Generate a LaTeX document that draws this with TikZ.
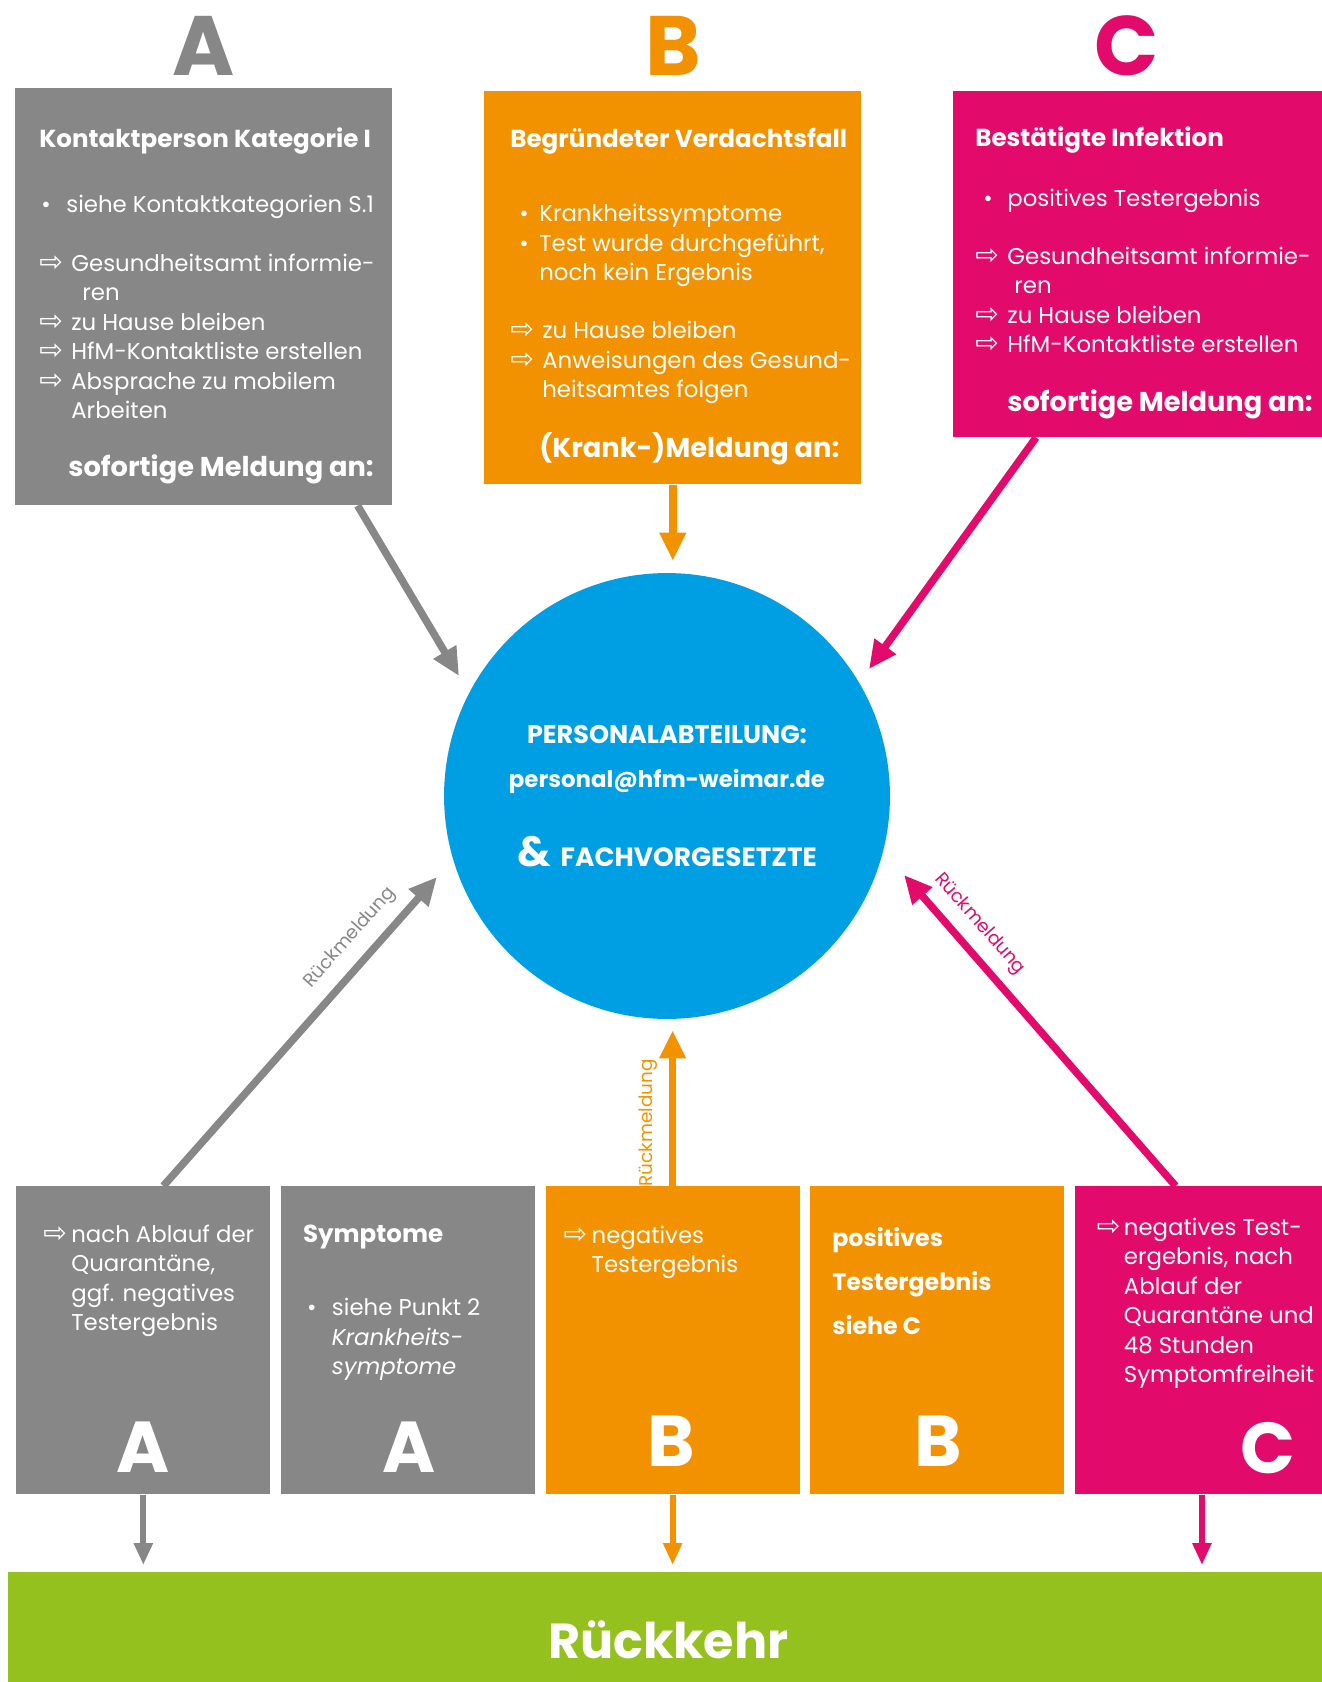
\documentclass[tikz,border=0pt]{standalone}
\usepackage{fontspec}
\setmainfont{Poppins}
\newfontfamily\pfeilfont{DejaVu Sans}
\usepackage{tikz}
\usetikzlibrary{positioning,arrows.meta,calc}

\definecolor{hfmgrau}{RGB}{135,135,135}
\definecolor{hfmorange}{RGB}{243,146,0}
\definecolor{hfmmagenta}{RGB}{226,10,106}
\definecolor{hfmblau}{RGB}{0,159,227}
\definecolor{hfmgruen}{RGB}{149,193,31}

\newcommand{\pf}[1][0.64cm]{\makebox[#1][l]{\pfeilfont\fontsize{16}{13}\selectfont ⇨}}
\newcommand{\pkt}[1][0.5cm]{\makebox[#1][l]{•}}
\newcommand{\titel}[1]{{\bfseries\fontsize{14}{16.8}\selectfont #1}}
\newcommand{\meldung}[1]{{\bfseries\fontsize{15.5}{16.8}\selectfont #1}}

\tikzstyle{kasten} = [rectangle, anchor=north west, inner sep=0pt, minimum width=5.08cm, minimum height=6.16cm]
\tikzstyle{inhalt} = [anchor=north west, inner sep=0pt, align=left, text=white, font=\fontsize{13}{16.8}\selectfont]
\tikzstyle{pfeil} = [line width=0.15cm, -{Triangle[length=0.56cm,width=0.5cm]}]
\tikzstyle{pfeilunten} = [line width=0.12cm, -{Triangle[length=0.44cm,width=0.36cm]}]

\begin{document}
\begin{tikzpicture}[x=0.02cm, y=-0.02cm]
\tikzset{%
	gross/.style = { inner sep=0pt, font=\fontsize{48}{48}\selectfont\bfseries },
	klein/.style = { inner sep=0pt, text=white, font=\fontsize{41}{41}\selectfont\bfseries },
	rueck/.style = { sloped, above=0.16cm, inner sep=2pt, font=\fontsize{10.5}{10.5}\selectfont }
}
\useasboundingbox (0,0) rectangle (1321,1682);

\node(TitelA)			[gross, text=hfmgrau] at (204,46)		{A};
\node(TitelB)			[gross, text=hfmorange] at (673,46)		{B};
\node(TitelC)			[gross, text=hfmmagenta] at (1127,46)	{C};

\node(KontaktA)		[kasten, fill=hfmgrau, minimum width=7.54cm, minimum height=8.34cm] at (15,88) {};
\node(VerdachtB)		[kasten, fill=hfmorange, minimum width=7.54cm, minimum height=7.86cm] at (484,91) {};
\node(InfektionC)		[kasten, fill=hfmmagenta, minimum width=7.4cm, minimum height=6.92cm] at (953,91) {};

\node(KontaktAText)	[inhalt, below right=0.78cm and 0.48cm of KontaktA.north west]
								{\titel{Kontaktperson Kategorie I}\\[0.71cm]
								\hspace*{0.04cm}\pkt siehe Kontaktkategorien S.1\\[0.59cm]
								\pf Gesundheitsamt informie-\\
								\hspace*{0.86cm}ren\\
								\pf zu Hause bleiben\\
								\pf HfM-Kontaktliste erstellen\\
								\pf Absprache zu mobilem\\
								\hspace*{0.64cm}Arbeiten\\[0.57cm]
								\hspace*{0.58cm}\meldung{sofortige Meldung an:}};
\node(VerdachtBText)	[inhalt, below right=0.74cm and 0.52cm of VerdachtB.north west]
								{\titel{Begründeter Verdachtsfall}\\[0.89cm]
								\hspace*{0.18cm}\pkt[0.4cm]Krankheitssymptome\\
								\hspace*{0.18cm}\pkt[0.4cm]Test wurde durchgeführt,\\
								\hspace*{0.58cm}noch kein Ergebnis\\[0.57cm]
								\pf zu Hause bleiben\\
								\pf Anweisungen des Gesund-\\
								\hspace*{0.64cm}heitsamtes folgen\\[0.55cm]
								\hspace*{0.58cm}\meldung{(Krank-)Meldung an:}};
\node(InfektionCText)	[inhalt, below right=0.70cm and 0.44cm of InfektionC.north west]
								{\titel{Bestätigte Infektion}\\[0.61cm]
								\hspace*{0.16cm}\pkt[0.48cm]positives Testergebnis\\[0.57cm]
								\pf Gesundheitsamt informie-\\
								\hspace*{0.78cm}ren\\
								\pf zu Hause bleiben\\
								\pf HfM-Kontaktliste erstellen\\[0.59cm]
								\hspace*{0.64cm}\meldung{sofortige Meldung an:}};

\node(Personal)		[circle, fill=hfmblau, minimum size=8.92cm, inner sep=0pt, text=white, align=center,
								font=\fontsize{14.5}{16.8}\selectfont\bfseries] at (667,796)
								{PERSONALABTEILUNG:\\[0.29cm]
								{\fontsize{13}{16.8}\selectfont personal@hfm-weimar.de}\\[0.81cm]
								{\fontsize{24}{24}\selectfont\&}\hspace{0.2cm}{\fontsize{15}{16.8}\selectfont FACHVORGESETZTE}};

\node(QuarantaeneA)	[kasten, fill=hfmgrau] at (16,1186) {};
\node(SymptomeA)		[kasten, fill=hfmgrau, right=0.2cm of QuarantaeneA] {};
\node(NegativB)		[kasten, fill=hfmorange, right=0.2cm of SymptomeA] {};
\node(PositivB)		[kasten, fill=hfmorange, right=0.2cm of NegativB] {};
\node(NegativC)		[kasten, fill=hfmmagenta, right=0.2cm of PositivB] {};

\node(QuarantaeneAText)	[inhalt, below right=0.77cm and 0.54cm of QuarantaeneA.north west]
								{\pf[0.56cm]nach Ablauf der\\
								\hspace*{0.56cm}Quarantäne,\\
								\hspace*{0.56cm}ggf. negatives\\
								\hspace*{0.56cm}Testergebnis};
\node(SymptomeAText)	[inhalt, below right=0.78cm and 0.44cm of SymptomeA.north west]
								{\titel{Symptome}\\[0.87cm]
								\hspace*{0.08cm}\pkt siehe Punkt 2\\
								\hspace*{0.58cm}\textit{Krankheits-}\\
								\hspace*{0.58cm}\textit{symptome}};
\node(NegativBText)	[inhalt, below right=0.79cm and 0.36cm of NegativB.north west]
								{\pf[0.56cm]negatives\\
								\hspace*{0.56cm}Testergebnis};
\node(PositivBText)	[inhalt, below right=0.82cm and 0.44cm of PositivB.north west,
								font=\fontsize{13.5}{25}\selectfont\bfseries]
								{positives\\
								Testergebnis\\
								siehe C};
\node(NegativCText)	[inhalt, below right=0.63cm and 0.44cm of NegativC.north west]
								{\pf[0.54cm]negatives Test-\\
								\hspace*{0.54cm}ergebnis, nach\\
								\hspace*{0.54cm}Ablauf der\\
								\hspace*{0.54cm}Quarantäne und\\
								\hspace*{0.54cm}48 Stunden\\
								\hspace*{0.54cm}Symptomfreiheit};

\node(MarkA1)			[klein] at (143,1447)	{A};
\node(MarkA2)			[klein] at (409,1447)	{A};
\node(MarkB1)			[klein] at (671,1441)	{B};
\node(MarkB2)			[klein] at (938,1441)	{B};
\node(MarkC)			[klein] at (1268,1448)	{C};

\node(Rueckkehr)		[kasten, fill=hfmgruen, minimum width=26.4cm, minimum height=2.7cm, text=white,
								font=\fontsize{28}{28}\selectfont\bfseries] at (8,1572)
								{Rückkehr};

\coordinate (AIn)		at (459,676);
\coordinate (CIn)		at (869,669);
\coordinate (ARueck)	at (437,877);
\coordinate (CRueck)	at (904,875);

%\draw [pfeil, hfmgrau] (KontaktA.south) -- (Personal);
\draw [pfeil, hfmgrau]		([xshift=-0.7cm]KontaktA.south east) -- (AIn);
\draw [pfeil, hfmorange, shorten >=0.24cm]	(VerdachtB.south) -- (VerdachtB.south |- Personal.north);
\draw [pfeil, hfmmagenta]	([xshift=1.66cm]InfektionC.south west) -- (CIn);

\draw [pfeil, hfmgrau]		([xshift=0.4cm]QuarantaeneA.north) -- (ARueck)
						node[rueck, pos=0.75, text=hfmgrau] {Rückmeldung};
\draw [pfeil, hfmorange, shorten >=0.22cm]	(NegativB.north) -- (NegativB.north |- Personal.south)
						node[rueck, allow upside down, pos=0.38, text=hfmorange] {Rückmeldung};
\draw [pfeil, hfmmagenta]	([xshift=2.02cm]NegativC.north west) -- (CRueck)
						node[rueck, pos=0.79, text=hfmmagenta] {Rückmeldung};

\draw [pfeilunten, hfmgrau, shorten >=0.14cm]		(QuarantaeneA.south) -- (QuarantaeneA.south |- Rueckkehr.north);
\draw [pfeilunten, hfmorange, shorten >=0.14cm]	(NegativB.south) -- (NegativB.south |- Rueckkehr.north);
\draw [pfeilunten, hfmmagenta, shorten >=0.14cm]	(NegativC.south) -- (NegativC.south |- Rueckkehr.north);

\end{tikzpicture}
\end{document}
